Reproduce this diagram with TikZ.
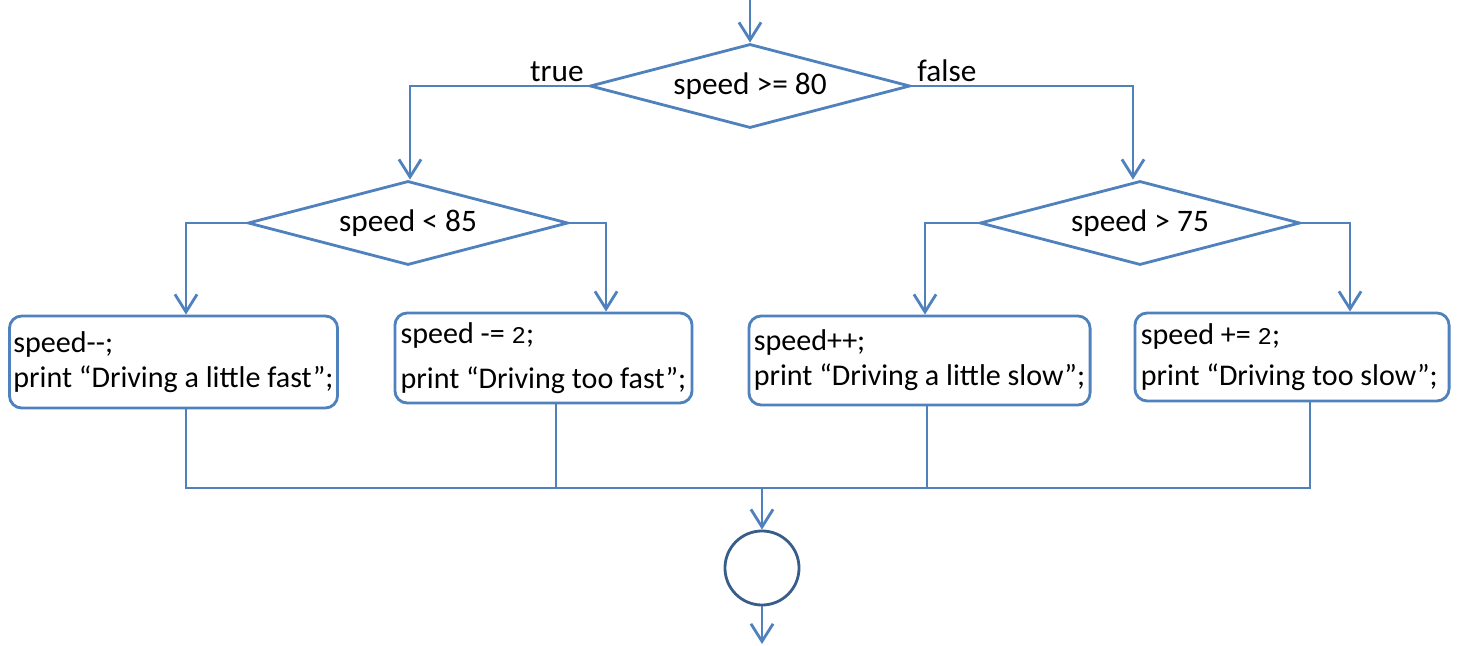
\documentclass[tikz,border=0pt]{standalone}
\usepackage{fontspec}
\setmainfont{Carlito}
\newfontfamily\codefont{Liberation Mono}
\usetikzlibrary{shapes.geometric, arrows.meta, positioning}
\definecolor{flowBlue}{RGB}{79,129,189}
\definecolor{flowDark}{RGB}{56,93,138}
\newcommand{\num}[1]{{\codefont\fontsize{6.8}{8}\selectfont #1}}

\begin{document}
\begin{tikzpicture}[x=0.01cm, y=-0.01cm,
    test/.style={diamond, draw=flowBlue, thick, aspect=3.8, inner sep=0pt,
      minimum width=3.2cm, minimum height=0.84cm, font=\fontsize{8.9}{10}\selectfont},
    act/.style={rectangle, rounded corners=3.5pt, draw=flowBlue, thick, align=flush left,
      inner xsep=0.04cm, inner ysep=0pt, font=\fontsize{8.55}{10}\selectfont},
    lbl/.style={font=\fontsize{8.9}{10}\selectfont, inner sep=0pt},
    line/.style={draw=flowBlue, thick},
    flow/.style={line, -{Straight Barb[length=5pt, width=6.3pt]}}
  ]
  \useasboundingbox (0,0) rectangle (1457,646);

  % decisions
  \node[test] (top) at (750,86) {speed >= 80};
  \node[test] (fast) at (408,223) {speed < 85};
  \node[test] (slow) at (1140,223) {speed > 75};
  \node[lbl, anchor=base east] at ([xshift=-1.2pt, yshift=1.3pt]top.west) {true};
  \node[lbl, anchor=base west] at ([xshift=1.5pt, yshift=1.3pt]top.east) {false};

  % actions
  \node[act, minimum width=3.27cm, minimum height=0.92cm] (lfast) at (173.5,362)
    {speed-{}-;\\print “Driving a little fast”;};
  \node[act, minimum width=2.97cm, minimum height=0.90cm] (tfast) at (543.5,358)
    {speed -= \num{2};\\[2.8pt]print “Driving too fast”;};
  \node[act, minimum width=3.41cm, minimum height=0.89cm] (lslow) at (919.5,360.5)
    {speed++;\\print “Driving a little slow”;};
  \node[act, text width=3.02cm, inner xsep=0.06cm, minimum height=0.88cm] (tslow) at (1292,357)
    {speed += \num{2};\\[1.7pt]print “Driving too slow”;};

  \node[circle, draw=flowDark, thick, minimum size=0.74cm] (done) at (762,568) {};
  \coordinate (entry) at (750,0);
  \coordinate (join) at (762,488);
  \coordinate (exit) at (762,644);

  % connectors
  \draw[flow] (entry) -- (top.north);
  \draw[flow] (top.west) -| ([xshift=0.02cm]fast.north);
  \draw[flow] (top.east) -| ([xshift=-0.07cm]slow.north);
  \draw[flow] (fast.west) -| ([xshift=0.125cm]lfast.north);
  \draw[flow] (fast.east) -| ([xshift=0.625cm]tfast.north);
  \draw[flow] (slow.west) -| ([xshift=0.055cm]lslow.north);
  \draw[flow] (slow.east) -| ([xshift=0.58cm]tslow.north);

  \draw[line] ([xshift=0.125cm]lfast.south) |- (join);
  \draw[line] ([xshift=0.125cm]tfast.south) |- (join);
  \draw[line] ([xshift=0.075cm]lslow.south) |- (join);
  \draw[line] ([xshift=0.18cm]tslow.south) |- (join);
  \draw[flow] (join) -- (done.north);
  \draw[flow] (done.south) -- (exit);
\end{tikzpicture}
\end{document}
